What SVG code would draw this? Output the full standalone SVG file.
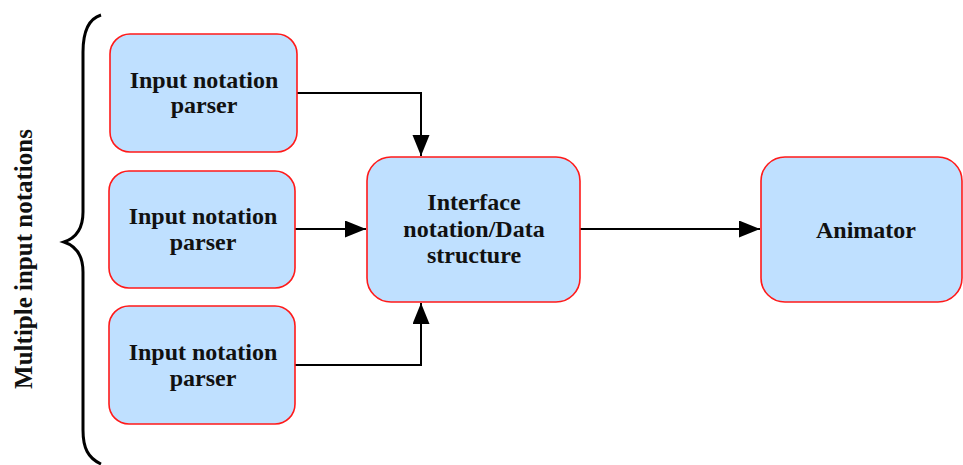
<svg xmlns="http://www.w3.org/2000/svg" width="963" height="465" viewBox="0 0 963 465">
<style>
.box{fill:#bfe0ff;stroke:#ff1a1a;stroke-width:1.6}
.t{font-family:"Liberation Serif","Times New Roman",serif;font-weight:bold;font-size:24px;fill:#111;text-anchor:middle}
.v{font-size:25px}
.c{fill:none;stroke:#000;stroke-width:2}
</style>
<defs>
<marker id="ah" markerUnits="userSpaceOnUse" markerWidth="22" markerHeight="18" refX="21" refY="8.5" orient="auto">
<path d="M0,0 L21,8.5 L0,17 Z" fill="#000"/>
</marker>
</defs>
<rect width="963" height="465" fill="#fff"/>
<g id="brace">
<path d="M101,15 C88,19 83,32 83,52 L83,212 C83,228 76,238 64,242 C76,246 83,256 83,272 L83,430 C83,448 88,458 101,464" fill="none" stroke="#000" stroke-width="3"/>
<text class="t v" transform="translate(32,259) rotate(-90)">Multiple input notations</text>
</g>
<g id="connectors">
<path class="c" d="M297,93 L421,93 L421,156" marker-end="url(#ah)"/>
<path class="c" d="M295,229 L366,229" marker-end="url(#ah)"/>
<path class="c" d="M295,365 L421,365 L421,303" marker-end="url(#ah)"/>
<path class="c" d="M580,229 L760,229" marker-end="url(#ah)"/>
</g>
<g id="parser1">
<rect class="box" x="110" y="34" width="187" height="118" rx="20"/>
<text class="t" x="204" y="88">Input notation</text>
<text class="t" x="204" y="113">parser</text>
</g>
<g id="parser2">
<rect class="box" x="109" y="171" width="186" height="117" rx="20"/>
<text class="t" x="203" y="224">Input notation</text>
<text class="t" x="203" y="250">parser</text>
</g>
<g id="parser3">
<rect class="box" x="109" y="306" width="186" height="118" rx="20"/>
<text class="t" x="203" y="360">Input notation</text>
<text class="t" x="203" y="386">parser</text>
</g>
<g id="interface">
<rect class="box" x="367" y="157" width="213" height="145" rx="24"/>
<text class="t" x="474" y="210">Interface</text>
<text class="t" x="474" y="237">notation/Data</text>
<text class="t" x="474" y="263">structure</text>
</g>
<g id="animator">
<rect class="box" x="761" y="157" width="201" height="145" rx="24"/>
<text class="t" x="866" y="238">Animator</text>
</g>
</svg>
